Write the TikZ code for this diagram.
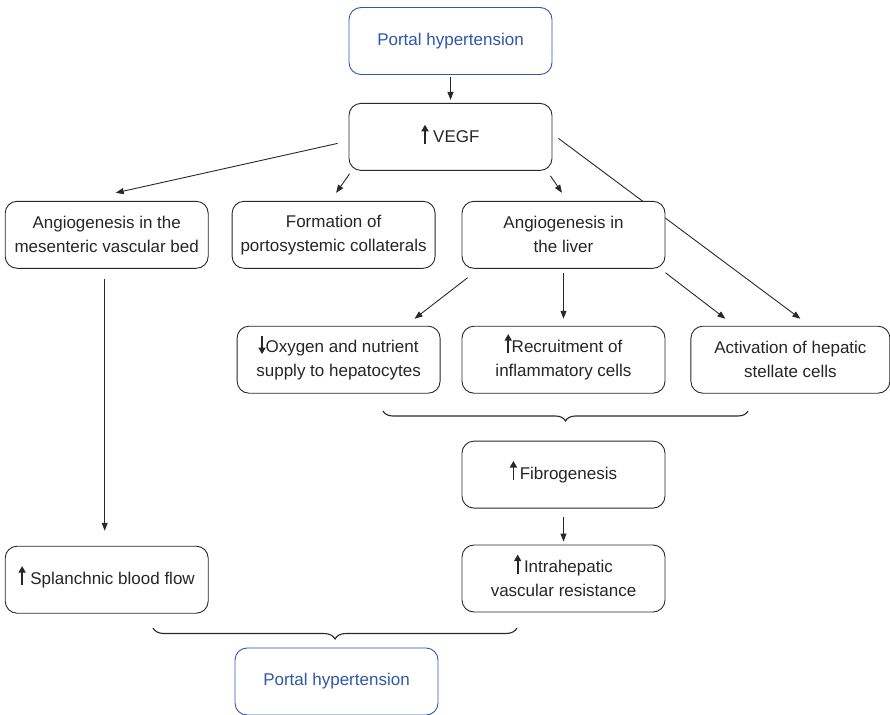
\documentclass[tikz,border=0pt]{standalone}
\usepackage{fontspec}
\setmainfont{Liberation Sans}
\usepackage{tikz}
\usetikzlibrary{arrows.meta,positioning,backgrounds,decorations.pathreplacing}

\definecolor{portalblue}{RGB}{46,88,168}
\definecolor{boxline}{RGB}{40,40,40}

\newcommand{\upar}{\smash{\tikz[baseline=0pt]\draw[line width=1.8pt,-{Triangle[length=6.5pt,width=7pt]}] (0pt,-1pt) -- (0pt,18pt);}}
\newcommand{\downar}{\smash{\tikz[baseline=0pt]\draw[line width=1.8pt,-{Triangle[length=6.5pt,width=7pt]}] (0pt,16pt) -- (0pt,-2pt);}}

\begin{document}
\begin{tikzpicture}[
    x=1pt, y=1pt,
    node distance=28pt,
    box/.style={rectangle, draw=boxline, line width=0.9pt, rounded corners=12pt, fill=white, minimum width=203pt, minimum height=67pt, align=center, font=\fontsize{17}{24}\selectfont, text=black!85},
    portal/.style={box, draw=portalblue, text=portalblue},
    arrow/.style={-{Triangle[length=8pt,width=6pt]}, line width=0.9pt, draw=boxline},
    curly/.style={decorate, decoration={brace, mirror, amplitude=10pt}, line width=1.1pt, draw=boxline},
  ]
    \useasboundingbox (0,0) rectangle (890,-714);

    \node[portal] (phtop) at (450.5,-41) {Portal hypertension};
    \node[box, below=of phtop] (vegf) {\upar\ VEGF};

    \node[box, below=30pt of vegf, xshift=113pt] (liver) {Angiogenesis in\\the liver};
    \node[box, left=26pt of liver] (collat) {Formation of\\portosystemic collaterals};
    \node[box, left=23pt of collat] (mesent) {Angiogenesis in the\\mesenteric vascular bed};

    \node[box, below=57pt of liver] (recruit) {\upar Recruitment of\\inflammatory cells};
    \node[box, left=21pt of recruit] (oxygen) {\downar Oxygen and nutrient\\supply to hepatocytes};
    \node[box, right=25pt of recruit, minimum width=199pt] (stellate) {Activation of hepatic\\stellate cells};

    \node[box, below=47pt of recruit] (fibro) {\upar\,Fibrogenesis};
    \node[box, below=36pt of fibro] (resist) {\upar\,Intrahepatic\\vascular resistance};
    \node[box, below=277pt of mesent] (splanch) {\upar\ Splanchnic blood flow};

    \node[portal] (phbottom) at (336.5,-681.5) {Portal hypertension};

    \draw[arrow, shorten <=2pt, shorten >=3pt] (phtop) -- (vegf);
    \draw[arrow] ([shift={(-11,-6.5)}]vegf.west) -- ([shift={(9,8)}]mesent.north);
    \draw[arrow] ([shift={(1,-3)}]vegf.south west) -- ([shift={(2.5,8)}]collat.north);
    \draw[arrow] ([shift={(-2,-5)}]vegf.south east) -- ([shift={(-1.5,8)}]liver.north);
    \begin{scope}[on background layer]
      \draw[arrow] ([shift={(6,-1.5)}]vegf.east) -- ([shift={(10,7)}]stellate.north);
    \end{scope}

    \draw[arrow] ([shift={(6,-9)}]liver.south west) -- ([shift={(-26,7)}]oxygen.north east);
    \draw[arrow, shorten <=4pt, shorten >=7pt] (liver.south) -- (recruit.north);
    \draw[arrow] ([shift={(0,-4)}]liver.south east) -- ([shift={(35,7)}]stellate.north west);

    \draw[arrow, shorten <=10pt, shorten >=15pt] ([xshift=-2]mesent.south) -- ([xshift=-2]splanch.north);
    \draw[arrow, shorten <=8pt, shorten >=3pt] (fibro.south) -- (resist.north);

    % braces
    \draw[curly] (383,-411) -- (748,-411);
    \draw[curly, decoration={amplitude=11pt}] (153,-628) -- (517,-628);
  \end{tikzpicture}
\end{document}
